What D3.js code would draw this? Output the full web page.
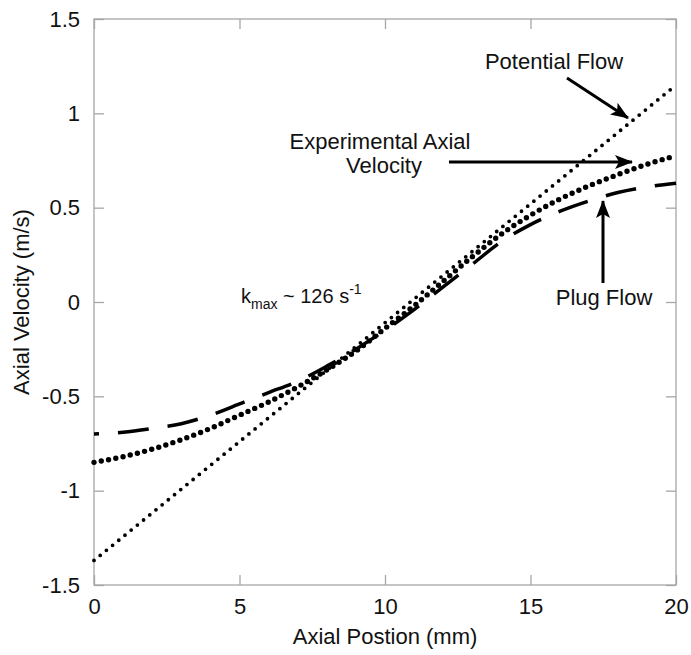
<!DOCTYPE html>
<html>
<head>
<meta charset="utf-8">
<script src="https://cdn.jsdelivr.net/npm/d3@7"></script>
<style>
  body { margin: 0; background: #fff; }
  svg { display: block; font-family: "Liberation Sans", Arial, sans-serif; }
</style>
</head>
<body>
<div id="chart"></div>
<script>
// axial position (mm)
const positions = [0, 1, 2, 3, 4, 5, 6, 7, 8, 9, 10, 11, 12, 13, 14, 15, 16, 17, 18, 19, 20]
// axial velocity (m/s)
const experimental = [-0.85, -0.82, -0.78, -0.73, -0.67, -0.60, -0.53, -0.45, -0.36, -0.26, -0.14,
  -0.02, 0.11, 0.24, 0.36, 0.46, 0.545, 0.615, 0.675, 0.73, 0.775]
const plugFlow = [-0.70, -0.69, -0.67, -0.645, -0.60, -0.54, -0.48, -0.42, -0.34, -0.25, -0.15,
  -0.04, 0.08, 0.20, 0.32, 0.41, 0.48, 0.535, 0.58, 0.61, 0.63]
const potentialX = [0, 20]
const potentialFlow = [-1.37, 1.15]

const xTicks = [0, 5, 10, 15, 20]
const yTicks = [-1.5, -1, -0.5, 0, 0.5, 1, 1.5]

const width = 691, height = 655
const frameColor = "#a6a6a6"

const svg = d3.select("#chart").append("svg")
  .attr("width", width)
  .attr("height", height)

const x = d3.scaleLinear().domain([0, 20]).range([94, 676])
const y = d3.scaleLinear().domain([-1.5, 1.5]).range([585, 19])

// frame
svg.append("rect")
  .attr("x", x(0)).attr("y", y(1.5))
  .attr("width", x(20) - x(0)).attr("height", y(-1.5) - y(1.5))
  .attr("fill", "none").attr("stroke", frameColor).attr("stroke-width", 1.3)

function styleAxis(g) {
  g.select(".domain").remove()
  g.selectAll(".tick line").attr("stroke", frameColor).attr("stroke-width", 1.3)
  g.selectAll(".tick text").attr("fill", "#111").style("font-size", "22px")
}

svg.append("g")
  .attr("transform", `translate(0,${y(-1.5)})`)
  .call(d3.axisBottom(x).tickValues(xTicks).tickSize(-10).tickPadding(13).tickFormat(String))
  .call(styleAxis)
svg.append("g")
  .attr("transform", `translate(0,${y(1.5)})`)
  .call(d3.axisTop(x).tickValues(xTicks).tickSize(-10).tickFormat(""))
  .call(styleAxis)
svg.append("g")
  .attr("transform", `translate(${x(0)},0)`)
  .call(d3.axisLeft(y).tickValues(yTicks).tickSize(-10).tickPadding(14).tickFormat(String))
  .call(styleAxis)
svg.append("g")
  .attr("transform", `translate(${x(20)},0)`)
  .call(d3.axisRight(y).tickValues(yTicks).tickSize(-10).tickFormat(""))
  .call(styleAxis)

// axis titles
svg.append("text")
  .attr("x", (x(0) + x(20)) / 2).attr("y", 644)
  .attr("text-anchor", "middle").style("font-size", "22px").attr("fill", "#111")
  .text("Axial Postion (mm)")
svg.append("text")
  .attr("transform", `translate(29,${y(0)}) rotate(-90)`)
  .attr("text-anchor", "middle").style("font-size", "22px").attr("fill", "#111")
  .text("Axial Velocity (m/s)")

// series
const line = d3.line().curve(d3.curveMonotoneX)

svg.append("path")
  .attr("d", line(positions.map((p, i) => [x(p), y(plugFlow[i])])))
  .attr("fill", "none").attr("stroke", "#000").attr("stroke-width", 3.5)
  .attr("stroke-dasharray", "31 19").attr("stroke-dashoffset", 26)

svg.append("path")
  .attr("d", line(potentialX.map((p, i) => [x(p), y(potentialFlow[i])])))
  .attr("fill", "none").attr("stroke", "#000").attr("stroke-width", 3.8)
  .attr("stroke-linecap", "round").attr("stroke-dasharray", "0 8")

svg.append("path")
  .attr("d", line(positions.map((p, i) => [x(p), y(experimental[i])])))
  .attr("fill", "none").attr("stroke", "#000").attr("stroke-width", 5.4)
  .attr("stroke-linecap", "round").attr("stroke-dasharray", "0 7.4")

// arrows
svg.append("defs").append("marker")
  .attr("id", "arrow")
  .attr("markerUnits", "userSpaceOnUse")
  .attr("viewBox", "0 0 18 14")
  .attr("markerWidth", 18).attr("markerHeight", 14)
  .attr("refX", 17).attr("refY", 7)
  .attr("orient", "auto")
  .append("path")
    .attr("d", "M0,0 L18,7 L0,14 L4,7 Z")
    .attr("fill", "#000")

const arrows = [
  [[567, 78], [628, 118]],
  [[449, 162], [632, 162]],
  [[603, 283], [603, 201]],
]
svg.append("g").selectAll("line")
  .data(arrows)
  .join("line")
    .attr("x1", d => d[0][0]).attr("y1", d => d[0][1])
    .attr("x2", d => d[1][0]).attr("y2", d => d[1][1])
    .attr("stroke", "#000").attr("stroke-width", 3)
    .attr("marker-end", "url(#arrow)")

// labels
const labels = svg.append("g").attr("fill", "#111").style("font-size", "22px")
labels.append("text").attr("x", 554).attr("y", 69).attr("text-anchor", "middle").text("Potential Flow")
labels.append("text").attr("x", 380).attr("y", 149).attr("text-anchor", "middle").text("Experimental Axial")
labels.append("text").attr("x", 384).attr("y", 173).attr("text-anchor", "middle").text("Velocity")
labels.append("text").attr("x", 604).attr("y", 305).attr("text-anchor", "middle").text("Plug Flow")

const k = labels.append("text").attr("x", 241).attr("y", 303).style("font-size", "20px")
k.append("tspan").text("k")
k.append("tspan").attr("dy", 6).style("font-size", "14px").text("max")
k.append("tspan").attr("dy", -6).text(" ~ 126 s")
k.append("tspan").attr("dy", -9).style("font-size", "14px").text("-1")
</script>
</body>
</html>
